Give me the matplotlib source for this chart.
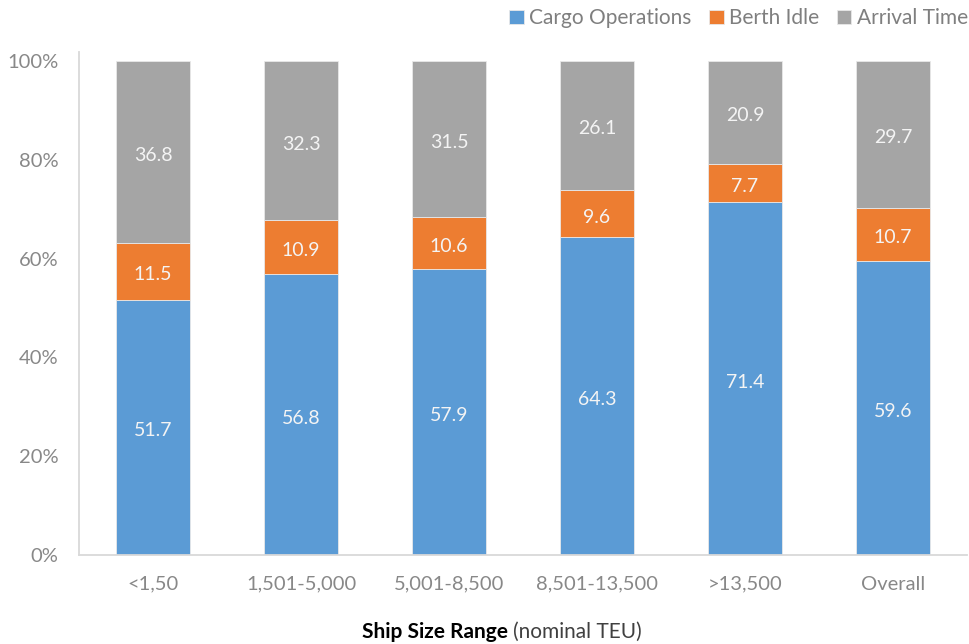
import matplotlib
matplotlib.use('Agg')
import matplotlib.pyplot as plt
import numpy as np

categories = ['<1,50', '1,501-5,000', '5,001-8,500', '8,501-13,500', '>13,500', 'Overall']
cargo      = [51.7, 56.8, 57.9, 64.3, 71.4, 59.6]
berth      = [11.5, 10.9, 10.6, 9.6, 7.7, 10.7]
arrival    = [36.8, 32.3, 31.5, 26.1, 20.9, 29.7]

series = [('Cargo Operations', cargo,   '#5b9bd5'),
          ('Berth Idle',       berth,   '#ed7d31'),
          ('Arrival Time',     arrival, '#a5a5a5')]

plt.rcParams['font.family'] = ['Lato', 'DejaVu Sans']

fig = plt.figure(figsize=(9.69, 6.44), dpi=100)
ax  = fig.add_axes([79/969, 1 - 555/644, 888/969, (555 - 52)/644])

x      = np.arange(len(categories))
bottom = np.zeros(len(categories))
for name, vals, col in series:
    ax.bar(x, vals, 0.5, bottom=bottom, color=col, label=name,
           edgecolor='#e8e8e8', linewidth=0.6)
    for xi, b, v in zip(x, bottom, vals):
        ax.text(xi, b + v / 2 - 0.7, '%.1f' % v, ha='center', va='center',
                color='#f4f4f4', fontsize=14)
    bottom += np.array(vals)

ax.set_xlim(-0.5, 5.5)
ax.set_ylim(0, 101.8)
ax.set_yticks([0, 20, 40, 60, 80, 100])
ax.set_yticklabels(['0%', '20%', '40%', '60%', '80%', '100%'])
ax.set_xticks(x)
ax.set_xticklabels(categories)
ax.tick_params(axis='both', length=0, colors='#888888', labelsize=14.5)
ax.tick_params(axis='x', pad=15)
ax.tick_params(axis='y', pad=15)

for s in ['top', 'right']:
    ax.spines[s].set_visible(False)
ax.spines['left'].set_color('#d9d9d9')
ax.spines['bottom'].set_color('#d9d9d9')
ax.spines['left'].set_linewidth(1.3)
ax.spines['bottom'].set_linewidth(1.3)

fig.text(508/969, 1 - 632/644, 'Ship Size Range', ha='right', va='center',
         fontsize=15, fontweight='bold', color='#000000')
fig.text(513/969, 1 - 632/644, '(nominal TEU)', ha='left', va='center',
         fontsize=15, color='#404040')

leg = fig.legend(loc='upper right', bbox_to_anchor=(1.018, 1.016), ncol=3,
                 frameon=False, fontsize=15, handlelength=0.7, handleheight=0.7,
                 handletextpad=0.25, columnspacing=0.85)
for t in leg.get_texts():
    t.set_color('#7f7f7f')

fig.savefig('out.png', dpi=100)
